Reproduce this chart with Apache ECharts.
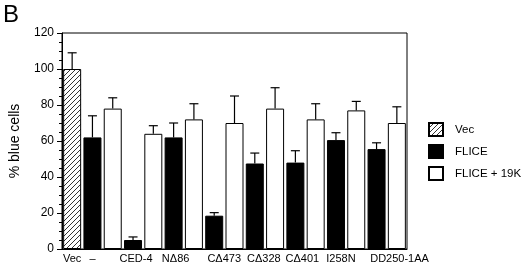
<!DOCTYPE html>
<html>
<head>
<meta charset="utf-8">
<script src="https://cdn.jsdelivr.net/npm/echarts@6/dist/echarts.min.js"></script>
<style>
  html, body { margin: 0; padding: 0; background: #fff; }
  #chart { width: 523px; height: 269px; }
</style>
</head>
<body>
<div id="chart"></div>
<script>
// groups on the x axis (Vec has one bar, the rest a FLICE / FLICE + 19K pair)
var groups = ['Vec', '\u2013', 'CED-4', 'N\u039486', 'C\u0394473', 'C\u0394328', 'C\u0394401', 'I258N', 'DD250-1AA']
var vecValue = 100
var vecErr = 109
var fliceValues = [62, 5, 62, 18.5, 47.5, 48, 60.5, 55.5]
var fliceErr = [74, 6.7, 70, 20.2, 53.3, 54.6, 64.6, 59]
var flice19kValues = [78, 64, 72, 70, 78, 72, 77, 70]
var flice19kErr = [84, 68.5, 80.7, 85, 89.6, 80.7, 82, 79]
var yTicks = [0, 20, 40, 60, 80, 100, 120]

// how far (px) each group label sits right of its first bar, as typeset in the figure
var labelShift = [0, 0, 3, 2, 10, 9, 7, 5, 23]

// one slot per bar
var slots = []
var slotLabels = []
var vecData = []
var fliceData = []
var whiteData = []
var errData = []
function addSlot(label, shift) {
  slots.push({ value: slots.length, textStyle: { padding: [0, 0, 0, shift * 2] } })
  slotLabels.push(label)
}
addSlot(groups[0], labelShift[0])
vecData.push(vecValue); fliceData.push(null); whiteData.push(null)
errData.push([0, vecValue, vecErr])
for (var i = 0; i < fliceValues.length; i++) {
  var s = slots.length
  addSlot(groups[i + 1], labelShift[i + 1])
  vecData.push(null); fliceData.push(fliceValues[i]); whiteData.push(null)
  errData.push([s, fliceValues[i], fliceErr[i]])
  addSlot('', 0)
  vecData.push(null); fliceData.push(null); whiteData.push(flice19kValues[i])
  errData.push([s + 1, flice19kValues[i], flice19kErr[i]])
}

// diagonal hatch for the Vec bar
function hatch() {
  var c = document.createElement('canvas')
  c.width = 5; c.height = 5
  var ctx = c.getContext('2d')
  ctx.fillStyle = '#fff'
  ctx.fillRect(0, 0, 5, 5)
  ctx.strokeStyle = '#000'
  ctx.lineWidth = 0.8
  ctx.beginPath()
  ctx.moveTo(0, 5); ctx.lineTo(5, 0)
  ctx.moveTo(-1, 1); ctx.lineTo(1, -1)
  ctx.moveTo(4, 6); ctx.lineTo(6, 4)
  ctx.stroke()
  return c
}

var font = '"Liberation Sans", Arial, sans-serif'
var chart = echarts.init(document.getElementById('chart'))
chart.setOption({
  animation: false,
  textStyle: { fontFamily: font, color: '#000' },
  title: {
    text: 'B',
    left: 3,
    top: 3,
    padding: 0,
    textStyle: { fontFamily: font, fontSize: 24, fontWeight: 'normal', color: '#000' }
  },
  legend: {
    orient: 'vertical',
    left: 428,
    top: 122,
    padding: 0,
    icon: 'rect',
    itemWidth: 14,
    itemHeight: 13,
    itemGap: 7,
    textStyle: { fontFamily: font, fontSize: 11.5, color: '#000', padding: [0, 0, 0, 7] },
    data: ['Vec', 'FLICE', 'FLICE + 19K']
  },
  grid: {
    left: 61,
    right: 116,
    top: 33,
    bottom: 20,
    show: true,
    borderColor: '#000',
    borderWidth: 1
  },
  xAxis: {
    type: 'category',
    data: slots,
    axisLine: { lineStyle: { color: '#000', width: 1 } },
    axisTick: { show: false },
    axisLabel: {
      interval: 0,
      fontSize: 11,
      color: '#000',
      margin: 4,
      formatter: function(v, idx) {
        return slotLabels[idx]
      }
    }
  },
  yAxis: {
    type: 'value',
    min: 0,
    max: 120,
    interval: 20,
    name: '% blue cells',
    nameLocation: 'middle',
    nameGap: 40,
    nameTextStyle: { fontFamily: font, fontSize: 14, color: '#000' },
    axisLine: { show: true, lineStyle: { color: '#000', width: 1 } },
    axisTick: { show: true, length: 5, lineStyle: { color: '#000' } },
    minorTick: { show: true, splitNumber: 4, length: 3, lineStyle: { color: '#000' } },
    splitLine: { show: false },
    axisLabel: {
      fontSize: 12,
      color: '#000',
      margin: 8,
      formatter: function(v) {
        return yTicks.indexOf(v) >= 0 ? String(v) : ''
      }
    }
  },
  series: [
    {
      name: 'Vec',
      type: 'bar',
      barWidth: 18,
      barGap: '-100%',
      data: vecData,
      itemStyle: { color: { image: hatch(), repeat: 'repeat' }, borderColor: '#000', borderWidth: 1 }
    },
    {
      name: 'FLICE',
      type: 'bar',
      barWidth: 18,
      barGap: '-100%',
      data: fliceData,
      itemStyle: { color: '#000', borderColor: '#000', borderWidth: 1 }
    },
    {
      name: 'FLICE + 19K',
      type: 'bar',
      barWidth: 18,
      barGap: '-100%',
      data: whiteData,
      itemStyle: { color: '#fff', borderColor: '#000', borderWidth: 1 }
    },
    {
      name: 'err',
      type: 'custom',
      data: errData,
      z: 1,
      renderItem: function(params, api) {
        var base = api.coord([api.value(0), api.value(1)])
        var top = api.coord([api.value(0), api.value(2)])
        var hw = 4.5
        return {
          type: 'group',
          children: [
            { type: 'line', shape: { x1: top[0], y1: base[1], x2: top[0], y2: top[1] }, style: { stroke: '#000', lineWidth: 1.2 } },
            { type: 'line', shape: { x1: top[0] - hw, y1: top[1], x2: top[0] + hw, y2: top[1] }, style: { stroke: '#000', lineWidth: 1.2 } }
          ]
        }
      }
    }
  ]
})
</script>
</body>
</html>
